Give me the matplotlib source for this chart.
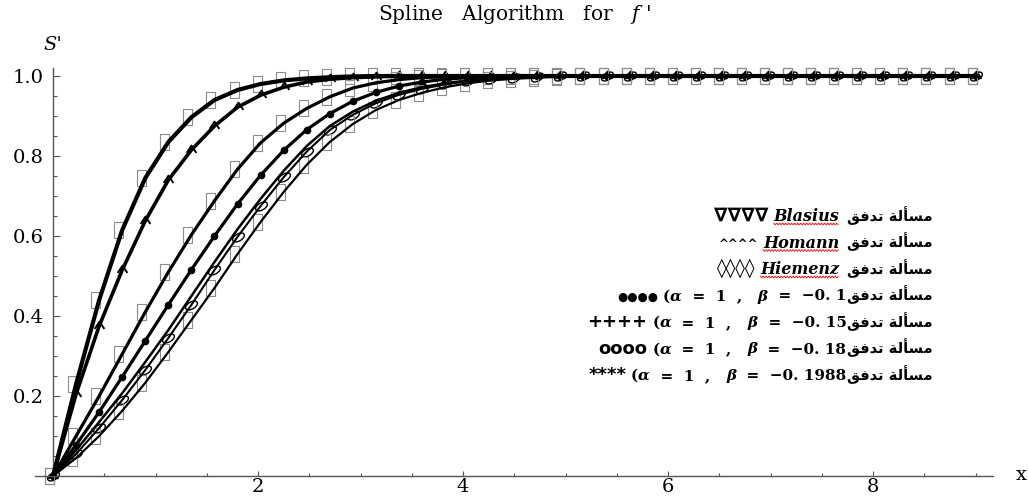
import numpy as np
import matplotlib
matplotlib.use('Agg')
import matplotlib.pyplot as plt
from matplotlib.lines import Line2D
from matplotlib.transforms import IdentityTransform
from matplotlib.ticker import FixedLocator, MultipleLocator, FormatStrFormatter

plt.rcParams['mathtext.fontset'] = 'dejavuserif'

# spline nodes: 41 points from 0 to 9
x = np.linspace(0, 9, 41)

# S' for each case
s_a = [0, 0.23, 0.44, 0.615, 0.745, 0.835, 0.897, 0.94, 0.965, 0.98, 0.989, 0.994, 0.997, 0.999,
       1.0, 1.0, 1.0, 1.0, 1.0, 1.0, 1.0, 1.0, 1.0, 1.0, 1.0, 1.0, 1.0, 1.0, 1.0, 1.0,
       1.0, 1.0, 1.0, 1.0, 1.0, 1.0, 1.0, 1.0, 1.0, 1.0, 1.0]
s_b = [0, 0.205, 0.375, 0.515, 0.638, 0.74, 0.815, 0.875, 0.922, 0.952, 0.972, 0.985, 0.992, 0.996,
       0.998, 1.0, 1.0, 1.0, 1.0, 1.0, 1.0, 1.0, 1.0, 1.0, 1.0, 1.0, 1.0, 1.0, 1.0, 1.0,
       1.0, 1.0, 1.0, 1.0, 1.0, 1.0, 1.0, 1.0, 1.0, 1.0, 1.0]
s_c = [0, 0.1, 0.2, 0.305, 0.41, 0.51, 0.603, 0.688, 0.767, 0.833, 0.882, 0.919, 0.948, 0.97,
       0.983, 0.991, 0.996, 0.998, 1.0, 1.0, 1.0, 1.0, 1.0, 1.0, 1.0, 1.0, 1.0, 1.0, 1.0, 1.0,
       1.0, 1.0, 1.0, 1.0, 1.0, 1.0, 1.0, 1.0, 1.0, 1.0, 1.0]
s_d = [0, 0.078, 0.16, 0.248, 0.338, 0.428, 0.516, 0.6, 0.68, 0.752, 0.814, 0.866, 0.906, 0.937,
       0.959, 0.975, 0.985, 0.992, 0.996, 0.998, 1.0, 1.0, 1.0, 1.0, 1.0, 1.0, 1.0, 1.0, 1.0, 1.0,
       1.0, 1.0, 1.0, 1.0, 1.0, 1.0, 1.0, 1.0, 1.0, 1.0, 1.0]
s_e = [0, 0.065, 0.135, 0.207, 0.285, 0.365, 0.45, 0.535, 0.617, 0.693, 0.763, 0.825, 0.875, 0.911,
       0.938, 0.958, 0.972, 0.982, 0.989, 0.993, 0.996, 0.998, 0.999, 1.0, 1.0, 1.0, 1.0, 1.0, 1.0, 1.0,
       1.0, 1.0, 1.0, 1.0, 1.0, 1.0, 1.0, 1.0, 1.0, 1.0, 1.0]
s_f = [0, 0.055, 0.12, 0.19, 0.265, 0.345, 0.428, 0.515, 0.598, 0.675, 0.747, 0.811, 0.865, 0.903,
       0.932, 0.953, 0.968, 0.979, 0.987, 0.992, 0.995, 0.997, 0.999, 1.0, 1.0, 1.0, 1.0, 1.0, 1.0, 1.0,
       1.0, 1.0, 1.0, 1.0, 1.0, 1.0, 1.0, 1.0, 1.0, 1.0, 1.0]
s_g = [0, 0.045, 0.1, 0.163, 0.233, 0.31, 0.39, 0.47, 0.555, 0.635, 0.71, 0.778, 0.835, 0.88,
       0.915, 0.94, 0.958, 0.972, 0.982, 0.989, 0.993, 0.996, 0.998, 0.999, 1.0, 1.0, 1.0, 1.0, 1.0, 1.0,
       1.0, 1.0, 1.0, 1.0, 1.0, 1.0, 1.0, 1.0, 1.0, 1.0, 1.0]

# "مسألة تدفق" written with Arabic presentation forms in visual order
ARABIC = "\uFED6\uFED3\uFEAA\uFE97 \uFE94\uFEDF\uFE84\uFEB4\uFEE3"
case_names = ["Blasius", "Homann", "Hiemenz"]
case_syms = ["\u2207\u2207\u2207\u2207", "^^^^", "\u25CA\u25CA\u25CA\u25CA"]
case_sym_size = [14, 8.5, 14]
beta_vals = ["\u22120. 1", "\u22120. 15", "\u22120. 18", "\u22120. 1988"]
beta_syms = ["\u25CF\u25CF\u25CF\u25CF", "++++", "oooo", "****"]
beta_sym_size = [8.5, 13, 13, 13]

# marker shapes
box = [(-0.5, -0.5), (0.03, -0.5), (0.03, 0.5), (-0.5, 0.5), (-0.5, -0.5)]
caret = [(-0.5, -0.25), (0, 0.5), (0.5, -0.25)]
t = np.linspace(0, 2 * np.pi, 40)
ang = np.deg2rad(30)
ell = np.column_stack([0.5 * np.cos(t) * np.cos(ang) - 0.27 * np.sin(t) * np.sin(ang),
                       0.5 * np.cos(t) * np.sin(ang) + 0.27 * np.sin(t) * np.cos(ang)])

fig = plt.figure(figsize=(10.28, 5.03), dpi=100)
ax = fig.add_axes([35 / 1028, 27 / 503, 958 / 1028, 408 / 503])

curves = [
    (s_a, 3.0, dict(marker=box, ms=12.2, mfc='none', mec='#8c8c8c', mew=0.8)),
    (s_b, 2.6, dict(marker=caret, ms=7, mfc='none', mec='k', mew=1.4)),
    (s_c, 2.3, dict(marker=box, ms=12.2, mfc='none', mec='#8c8c8c', mew=0.8)),
    (s_d, 2.3, dict(marker='o', ms=4.5, mfc='k', mec='k')),
    (s_e, 1.8, None),
    (s_f, 1.5, dict(marker=ell, ms=8.5, mfc='none', mec='k', mew=1.0)),
    (s_g, 1.6, dict(marker=box, ms=12.2, mfc='none', mec='#8c8c8c', mew=0.8)),
]
for y, lw, mk in curves:
    ax.plot(x, y, color='k', lw=lw, zorder=3, solid_joinstyle='round')
    if mk:
        ax.plot(x, y, ls='none', zorder=2, clip_on=False, **mk)

ax.set_xlim(-0.176, 9.17)
ax.set_ylim(0, 1.02)
for side in ['top', 'right']:
    ax.spines[side].set_visible(False)
ax.spines['left'].set_position(('data', 0))
for side in ['left', 'bottom']:
    ax.spines[side].set_color('#555555')
    ax.spines[side].set_linewidth(1.0)

ax.xaxis.set_major_locator(FixedLocator([2, 4, 6, 8]))
ax.xaxis.set_minor_locator(MultipleLocator(0.5))
ax.yaxis.set_major_locator(FixedLocator([0.2, 0.4, 0.6, 0.8, 1.0]))
ax.yaxis.set_minor_locator(MultipleLocator(0.05))
ax.xaxis.set_major_formatter(FormatStrFormatter('%d'))
ax.yaxis.set_major_formatter(FormatStrFormatter('%.1f'))
ax.tick_params(axis='both', which='both', direction='in', color='#555555', width=0.8)
ax.tick_params(axis='x', which='major', length=3.6, pad=1.5)
ax.tick_params(axis='x', which='minor', length=2.2)
ax.tick_params(axis='y', which='major', length=5, pad=6.5)
ax.tick_params(axis='y', which='minor', length=3)
for lab in ax.get_xticklabels() + ax.get_yticklabels():
    lab.set_fontfamily('DejaVu Serif')
    lab.set_fontsize(14)

fig.text(514, 503 - 14, "Spline   Algorithm   for   $f$ '", transform=IdentityTransform(),
         ha='center', va='center', family='DejaVu Serif', size=14.5)
fig.text(43, 503 - 50, "S'", transform=IdentityTransform(), ha='left', va='baseline',
         family='DejaVu Serif', style='italic', size=14)
fig.text(1016, 503 - 480, "x", transform=IdentityTransform(), ha='left', va='baseline',
         family='DejaVu Serif', size=14)

# legend written as text, right to left
renderer = fig.canvas.get_renderer()
arabic = dict(family='DejaVu Sans', weight='bold', size=10.5)
name = dict(family='DejaVu Serif', weight='bold', style='italic', size=11.5)
math = dict(family='DejaVu Serif', weight='bold', size=11)
greek = dict(family='DejaVu Serif', weight='bold', style='italic', size=11)


def sym(size):
    return dict(family='DejaVu Sans', weight='bold', size=size)


def put_row(base_px, pieces, squiggle=None):
    right = 933
    for text, gap, kw in pieces:
        right -= gap
        txt = fig.text(right, 503 - base_px, text, transform=IdentityTransform(),
                       ha='right', va='baseline', **kw)
        bb = txt.get_window_extent(renderer)
        if text == squiggle:
            xs = np.arange(bb.x0, bb.x1, 1.5)
            ys = 503 - base_px - 3.0 + 0.9 * (-1) ** np.arange(len(xs))
            fig.add_artist(Line2D(xs, ys, transform=IdentityTransform(), color='red', lw=0.6))
        right = bb.x0


for i in range(3):
    put_row(221 + 26.5 * i, [(ARABIC, 0, arabic), (case_names[i], 8, name),
                             (case_syms[i], 5, sym(case_sym_size[i]))], squiggle=case_names[i])
for i in range(4):
    put_row(221 + 26.5 * (i + 3), [(ARABIC, 0, arabic), ("  =  " + beta_vals[i], 1, math),
                                   ("\u03b2", 0, greek), ("  =  1  ,   ", 0, math),
                                   ("\u03b1", 0, greek), ("(", 0, math),
                                   (beta_syms[i], 5, sym(beta_sym_size[i]))])

plt.savefig('out.png', dpi=100)
